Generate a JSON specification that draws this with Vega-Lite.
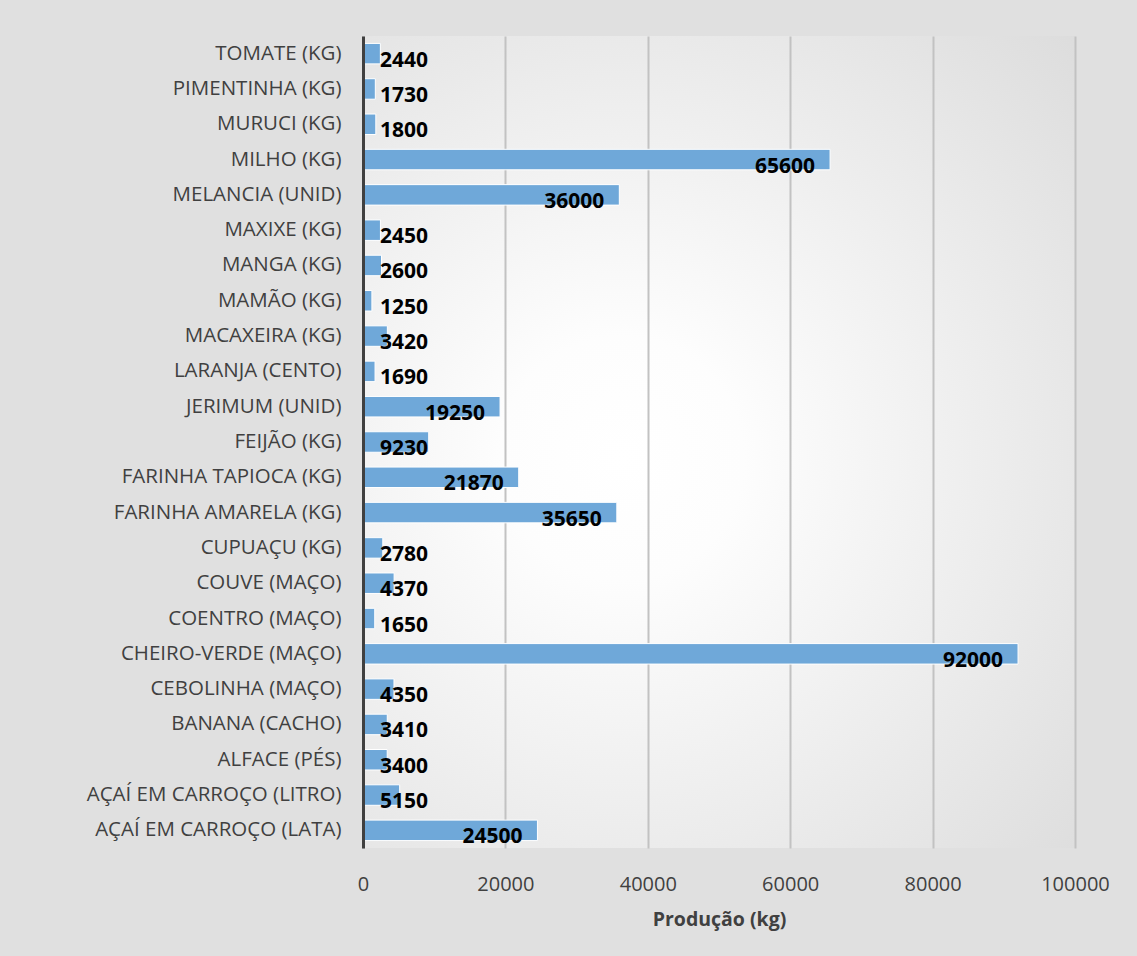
{
  "$schema": "https://vega.github.io/schema/vega-lite/v6.json",
  "width": 712,
  "height": 812,
  "autosize": "none",
  "padding": {"left": 363, "top": 36, "right": 62, "bottom": 108},
  "background": "#e0e0e0",
  "config": {
    "font": "Open Sans",
    "view": {
      "stroke": null,
      "fill": {
        "gradient": "radial",
        "x1": 0.38, "y1": 0.52, "r1": 0,
        "x2": 0.38, "y2": 0.52, "r2": 1.0,
        "stops": [
          {"offset": 0, "color": "#ffffff"},
          {"offset": 0.15, "color": "#fdfdfd"},
          {"offset": 1, "color": "#d0d0d0"}
        ]
      }
    }
  },
  "data": {
    "values": [
      {"produto": "TOMATE (KG)", "v": 2440},
      {"produto": "PIMENTINHA (KG)", "v": 1730},
      {"produto": "MURUCI (KG)", "v": 1800},
      {"produto": "MILHO (KG)", "v": 65600},
      {"produto": "MELANCIA  (UNID)", "v": 36000},
      {"produto": "MAXIXE (KG)", "v": 2450},
      {"produto": "MANGA (KG)", "v": 2600},
      {"produto": "MAMÃO (KG)", "v": 1250},
      {"produto": "MACAXEIRA (KG)", "v": 3420},
      {"produto": "LARANJA (CENTO)", "v": 1690},
      {"produto": "JERIMUM (UNID)", "v": 19250},
      {"produto": "FEIJÃO (KG)", "v": 9230},
      {"produto": "FARINHA TAPIOCA (KG)", "v": 21870},
      {"produto": "FARINHA AMARELA (KG)", "v": 35650},
      {"produto": "CUPUAÇU (KG)", "v": 2780},
      {"produto": "COUVE (MAÇO)", "v": 4370},
      {"produto": "COENTRO (MAÇO)", "v": 1650},
      {"produto": "CHEIRO-VERDE (MAÇO)", "v": 92000},
      {"produto": "CEBOLINHA (MAÇO)", "v": 4350},
      {"produto": "BANANA (CACHO)", "v": 3410},
      {"produto": "ALFACE (PÉS)", "v": 3400},
      {"produto": "AÇAÍ EM CARROÇO (LITRO)", "v": 5150},
      {"produto": "AÇAÍ EM CARROÇO (LATA)", "v": 24500}
    ]
  },
  "encoding": {
    "y": {
      "field": "produto",
      "type": "nominal",
      "sort": null,
      "scale": {"paddingInner": 0.42, "paddingOuter": 0.21},
      "axis": {
        "title": null,
        "ticks": false,
        "labelFontSize": 20.5,
        "labelColor": "#404040",
        "labelPadding": 22,
        "domainColor": "#404040",
        "domainWidth": 3,
        "labelLimit": 400,
        "zindex": 2
      }
    }
  },
  "layer": [
    {
      "mark": {"type": "bar", "color": "#6fa8d9", "stroke": "#ffffff", "strokeWidth": 1},
      "encoding": {
        "x": {
          "field": "v",
          "type": "quantitative",
          "scale": {"domain": [0, 100000], "nice": false},
          "axis": {
            "title": "Produção (kg)",
            "titleFontSize": 19.5,
            "titleFontWeight": "bold",
            "titleColor": "#404040",
            "titlePadding": 16,
            "values": [0, 20000, 40000, 60000, 80000, 100000],
            "format": "d",
            "labelFontSize": 20,
            "labelColor": "#404040",
            "labelPadding": 26,
            "labelFlush": false,
            "labelOverlap": false,
            "ticks": false,
            "domain": false,
            "grid": true,
            "gridColor": "#c2c2c2",
            "gridWidth": 2
          }
        }
      }
    },
    {
      "transform": [{"filter": "datum.v < 10000"}],
      "mark": {"type": "text", "align": "left", "baseline": "middle", "dx": 17, "dy": 7, "fontSize": 21, "fontWeight": "bold", "color": "#000000"},
      "encoding": {
        "x": {"datum": 0, "type": "quantitative"},
        "text": {"field": "v", "type": "quantitative", "format": "d"}
      }
    },
    {
      "transform": [{"filter": "datum.v >= 10000"}],
      "mark": {"type": "text", "align": "right", "baseline": "middle", "dx": -15, "dy": 7, "fontSize": 21, "fontWeight": "bold", "color": "#000000"},
      "encoding": {
        "x": {"field": "v", "type": "quantitative"},
        "text": {"field": "v", "type": "quantitative", "format": "d"}
      }
    }
  ]
}
